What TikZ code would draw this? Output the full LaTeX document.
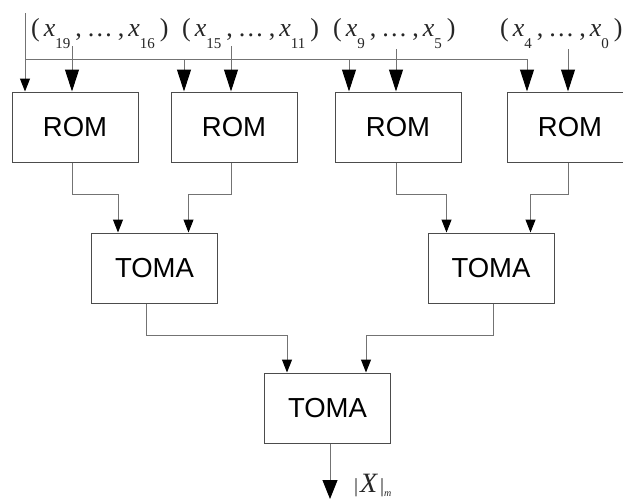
\documentclass[tikz,border=0pt]{standalone}
\usepackage{fontspec}
\setmainfont{Liberation Serif}
\newfontfamily\sansf{Liberation Sans}
\usetikzlibrary{arrows.meta,calc}

\newcommand{\myxs}[1]{\textit{x}\raisebox{-12pt}{\fontsize{15}{15}\selectfont #1}}
\newcommand{\mytuple}[2]{(\hspace{4pt}\myxs{#1}\hspace{5pt},\hspace{5pt}\ldots\hspace{5pt},\hspace{4pt}\myxs{#2}\hspace{5pt})}

\tikzset{
  blk/.style={draw=black!70, line width=1pt, minimum width=126pt, minimum height=70pt,
    inner sep=0pt, font=\sansf\fontsize{27.5}{28}\selectfont},
  wire/.style={draw=black!55, line width=1pt},
  bigtip/.style={wire, -{Triangle[width=14pt,length=22pt,color=black]}},
  smalltip/.style={wire, -{Triangle[width=10pt,length=13pt,color=black]}},
  outtip/.style={wire, -{Triangle[width=15pt,length=19pt,color=black]}},
  lab/.style={inner sep=0pt, anchor=base west, font=\fontsize{26}{26}\selectfont, text=black!85},
}

\begin{document}
\begin{tikzpicture}[x=1pt,y=-1pt]
\path[clip] (0,0) rectangle (623,499);
\fill[white] (0,0) rectangle (623,499);

\node[blk] (rom1) at (75,127) {ROM};
\node[blk] (rom2) at (234,127) {ROM};
\node[blk] (rom3) at (398,127) {ROM};
\node[blk] (rom4) at (570,127) {ROM};
\node[blk] (tomaL) at (154.5,268) {TOMA};
\node[blk] (tomaR) at (491,268) {TOMA};
\node[blk] (tomaB) at (327.5,408) {TOMA};

\node[lab] (l1) at (31,36) {\mytuple{19}{16}};
\node[lab] (l2) at (182,36) {\mytuple{15}{11}};
\node[lab] (l3) at (333,36) {\mytuple{9}{5}};
\node[lab] (l4) at (500,36) {\mytuple{4}{0}};

\coordinate (top) at (25,13);
\coordinate (bus) at (25,59);
\coordinate (busR) at (527,59);
\coordinate (b2) at (184,59);
\coordinate (b3) at (349,59);
\coordinate (i1) at (72,46);
\coordinate (i2) at (231,46);
\coordinate (i3) at (396,49);
\coordinate (i4) at (568,49);

\draw[smalltip] (top) -- (top |- rom1.north);
\draw[wire] (bus) -- (busR);
\draw[bigtip] (busR) -- (busR |- rom4.north);
\draw[bigtip] (b2) -- (b2 |- rom2.north);
\draw[bigtip] (b3) -- (b3 |- rom3.north);
\draw[bigtip] (i1) -- (i1 |- rom1.north);
\draw[bigtip] (i2) -- (i2 |- rom2.north);
\draw[bigtip] (i3) -- (i3 |- rom3.north);
\draw[bigtip] (i4) -- (i4 |- rom4.north);

\draw[smalltip] (rom1.south -| i1) -- ++(0,32) -| ($(tomaL.north west)+(27,0)$);
\draw[smalltip] (rom2.south -| i2) -- ++(0,32) -| ($(tomaL.north west)+(97.5,0)$);
\draw[smalltip] (rom3.south -| i3) -- ++(0,32) -| ($(tomaR.north west)+(19,0)$);
\draw[smalltip] (rom4.south -| i4) -- ++(0,32) -| ($(tomaR.north west)+(103,0)$);

\draw[smalltip] ($(tomaL.south west)+(55,0)$) -- ++(0,32) -| ($(tomaB.north west)+(23,0)$);
\draw[smalltip] ($(tomaR.south west)+(66,0)$) -- ++(0,32) -| ($(tomaB.north west)+(102,0)$);

\coordinate (out) at (330,499);
\draw[outtip] (tomaB.south -| out) -- (out);
\node[inner sep=0pt, anchor=base west, font=\fontsize{28}{28}\selectfont, text=black!85] (xm) at (354,492)
  {{\fontsize{20}{20}\selectfont|}\hspace{2pt}\textit{X}\hspace{2pt}{\fontsize{20}{20}\selectfont|}\raisebox{-4pt}{\fontsize{10}{10}\selectfont\textit{m}}};
\end{tikzpicture}
\end{document}
